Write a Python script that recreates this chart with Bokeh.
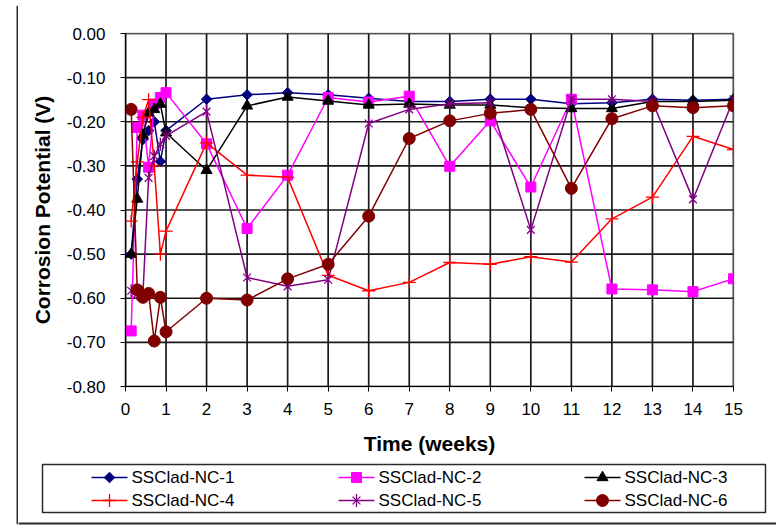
from bokeh.plotting import figure
from bokeh.models import Range1d, NumeralTickFormatter, FixedTicker
from bokeh.layouts import row, column
from bokeh.core.properties import value
from bokeh.embed import file_html
from bokeh.resources import INLINE

# ---- data ----
time_weeks = [0.14, 0.29, 0.43, 0.57, 0.71, 0.86, 1, 2, 3, 4, 5, 6, 7, 8,
              9, 10, 11, 12, 13, 14, 15]

nc1 = [-0.50, -0.33, -0.24, -0.22, -0.20, -0.29, -0.22, -0.149, -0.139, -0.134,
       -0.139, -0.147, -0.154, -0.154, -0.149, -0.149, -0.159, -0.157, -0.149,
       -0.151, -0.149]
nc2 = [-0.674, -0.213, -0.185, -0.303, -0.16, -0.145, -0.134, -0.25, -0.442,
       -0.321, -0.145, -0.155, -0.142, -0.301, -0.198, -0.348, -0.149, -0.579,
       -0.581, -0.585, -0.556]
nc3 = [-0.50, -0.375, -0.23, -0.18, -0.172, -0.16, -0.225, -0.31, -0.164,
       -0.144, -0.153, -0.162, -0.16, -0.162, -0.162, -0.168, -0.17, -0.17,
       -0.154, -0.154, -0.151]
nc4 = [-0.425, -0.291, -0.19, -0.15, -0.30, -0.50, -0.448, -0.248, -0.321,
       -0.326, -0.548, -0.583, -0.564, -0.519, -0.523, -0.506, -0.518, -0.42,
       -0.371, -0.233, -0.263]
nc5 = [-0.583, -0.59, -0.59, -0.327, -0.278, -0.251, -0.232, -0.177, -0.553,
       -0.573, -0.558, -0.204, -0.172, -0.159, -0.157, -0.445, -0.149, -0.149,
       -0.154, -0.376, -0.149]
nc6 = [-0.172, -0.581, -0.598, -0.589, -0.697, -0.598, -0.676, -0.60, -0.604,
       -0.556, -0.523, -0.414, -0.238, -0.198, -0.181, -0.172, -0.351, -0.193,
       -0.164, -0.168, -0.164]

labels = ["SSClad-NC-1", "SSClad-NC-2", "SSClad-NC-3",
          "SSClad-NC-4", "SSClad-NC-5", "SSClad-NC-6"]
x_ticks = [0, 1, 2, 3, 4, 5, 6, 7, 8, 9, 10, 11, 12, 13, 14, 15]
y_ticks = [-0.8, -0.7, -0.6, -0.5, -0.4, -0.3, -0.2, -0.1, 0.0]
X_MIN, X_MAX = 0, 15
Y_MIN, Y_MAX = -0.8, 0.0

FONT = "Liberation Sans"
BORDER = "#2a2a2a"

# ---------------- main chart ----------------
p = figure(width=758, height=452, output_backend="svg", toolbar_location=None,
           x_range=Range1d(X_MIN, X_MAX), y_range=Range1d(Y_MIN, Y_MAX),
           min_border_left=107, min_border_right=43, min_border_top=25,
           min_border_bottom=74, frame_align=False)
p.background_fill_color = "white"
p.border_fill_color = "white"
p.outline_line_color = "#8c8c8c"
p.outline_line_width = 1.5
p.xgrid.visible = False
p.ygrid.visible = False

for ax in (p.xaxis[0], p.yaxis[0]):
    ax.axis_line_color = "black"
    ax.axis_line_width = 1.2
    ax.major_tick_line_color = "black"
    ax.major_tick_out = 5
    ax.major_tick_in = 0
    ax.minor_tick_line_color = None
    ax.major_label_text_font = FONT
    ax.major_label_text_font_size = "17px"
    ax.major_label_text_color = "black"
    ax.axis_label_text_font = FONT
    ax.axis_label_text_font_style = "bold"
    ax.axis_label_text_font_size = "21px"
    ax.axis_label_text_color = "black"

p.xaxis.ticker = FixedTicker(ticks=x_ticks)
p.yaxis.ticker = FixedTicker(ticks=y_ticks)
p.yaxis.formatter = NumeralTickFormatter(format="0.00")
p.xaxis.axis_label = "Time (weeks)"
p.yaxis.axis_label = "Corrosion Potential (V)"
p.xaxis.major_label_standoff = 11
p.yaxis.major_label_standoff = 15
p.xaxis.axis_label_standoff = 14
p.yaxis.axis_label_standoff = 10

# grid lines at the tick positions (dark, as in the reference)
p.segment(x0=x_ticks, y0=[Y_MIN] * len(x_ticks), x1=x_ticks,
          y1=[Y_MAX] * len(x_ticks), line_color="#1a1a1a", line_width=1.7)
p.segment(x0=[X_MIN] * len(y_ticks), y0=y_ticks, x1=[X_MAX] * len(y_ticks),
          y1=y_ticks, line_color="#1a1a1a", line_width=1.7)

LW = 1.5
series = [
    (nc1, "#000080", dict(marker="square", angle=0.785, size=7.5,
                          fill_color="#000080", line_color="#000080")),
    (nc2, "#FF00FF", dict(marker="square", size=10,
                          fill_color="#FF00FF", line_color="#FF00FF")),
    (nc3, "black", dict(marker="triangle", size=11,
                        fill_color="black", line_color="black")),
    (nc4, "#FF0000", dict(marker="cross", size=13,
                          line_color="#FF0000", line_width=1.3)),
    (nc5, "#800080", dict(marker="x", size=11,
                          line_color="#800080", line_width=1.3)),
    (nc6, "#800000", dict(marker="circle", size=12,
                          fill_color="#800000", line_color="#800000")),
]
STAR_BAR = dict(marker="dash", angle=1.5708, size=13, line_color="#800080",
                line_width=1.3)

for vals, col, mk in series:
    p.line(time_weeks, vals, line_color=col, line_width=LW)
    p.scatter(time_weeks, vals, **mk)
    if mk["marker"] == "x":
        p.scatter(time_weeks, vals, **STAR_BAR)

# ---------------- frame pieces (page-pixel coordinates) ----------------
def blank(w, h, x0, x1, y0, y1):
    f = figure(width=w, height=h, output_backend="svg", toolbar_location=None,
               x_range=Range1d(x0, x1), y_range=Range1d(y1, y0),
               x_axis_location=None, y_axis_location=None, min_border=0,
               frame_align=False)
    f.grid.visible = False
    f.outline_line_color = None
    f.background_fill_color = "white"
    f.border_fill_color = "white"
    return f

left = blank(18, 525, 0, 18, 0, 525)
left.line(x=[18, 17, 17, 18], y=[6, 6, 523, 523], line_color=BORDER,
          line_width=2)

top = blank(758, 8, 18, 776, 0, 8)
top.line(x=[18, 776], y=[6, 6], line_color=BORDER, line_width=2)

leg = blank(758, 65, 18, 776, 460, 525)
leg.line(x=[18, 776], y=[523, 523], line_color=BORDER, line_width=2)
leg.quad(left=42, right=765, top=464, bottom=512, fill_alpha=0,
         line_color=BORDER, line_width=1.5)

col_x = [91, 338, 584]
row_y = [477, 500]
GW = 36
for i, (lab, (vals, col, mk)) in enumerate(zip(labels, series)):
    x0 = col_x[i % 3]
    y0 = row_y[i // 3]
    leg.line(x=[x0, x0 + GW], y=[y0, y0], line_color=col, line_width=LW)
    leg.scatter(x=[x0 + GW / 2], y=[y0], **mk)
    if mk["marker"] == "x":
        leg.scatter(x=[x0 + GW / 2], y=[y0], **STAR_BAR)
    leg.text(x=[x0 + GW + 4], y=[y0], text=[lab], text_font=value(FONT),
             text_font_size="17px", text_baseline="middle",
             text_align="left", text_color="black")

layout = row(left, column(top, p, leg))

open("out.html", "w").write(file_html(layout, INLINE))
